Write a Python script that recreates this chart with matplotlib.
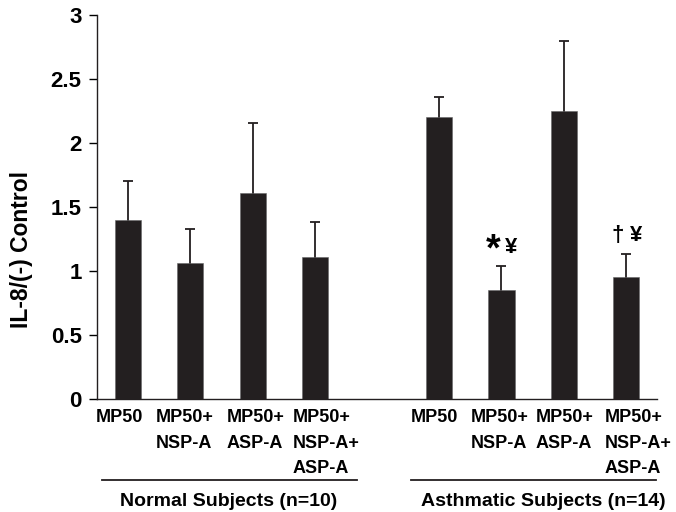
"""IL-8 response bar chart, normal vs asthmatic subjects."""

import matplotlib

matplotlib.use("Agg")

import matplotlib.pyplot as plt
import matplotlib.transforms as mtransforms

plt.rcParams["font.family"] = ["Liberation Sans", "DejaVu Sans"]
plt.rcParams["font.weight"] = "bold"

TREATMENTS = ["MP50", "MP50+\nNSP-A", "MP50+\nASP-A", "MP50+\nNSP-A+\nASP-A"]
NORMAL_MEAN = [1.40, 1.06, 1.61, 1.11]
NORMAL_ERR = [0.30, 0.27, 0.55, 0.27]
ASTHMA_MEAN = [2.20, 0.85, 2.25, 0.955]
ASTHMA_ERR = [0.16, 0.19, 0.55, 0.18]
GROUPS = ["Normal Subjects (n=10)", "Asthmatic Subjects (n=14)"]

BAR_COLOR = "#231f20"
# horizontal nudge (px) of each tick label, as in the original figure
LABEL_SHIFT = [-9, -6, 3, 11, -5, -2, 1, 12]


def main() -> None:
    fig = plt.figure(figsize=(6.76, 5.12), dpi=100)
    ax = fig.add_axes([0.1435, 0.2207, 0.8285, 0.75])

    normal_x = list(range(len(TREATMENTS)))
    asthma_x = [x + len(TREATMENTS) + 1 for x in normal_x]
    positions = normal_x + asthma_x
    means = NORMAL_MEAN + ASTHMA_MEAN
    errs = NORMAL_ERR + ASTHMA_ERR

    ax.bar(positions, means, width=0.42, color=BAR_COLOR, edgecolor="#666666",
           linewidth=0.4, zorder=2)
    # symmetric bars: the lower half hides behind the bar
    ax.errorbar(positions, means, yerr=errs, fmt="none", ecolor=BAR_COLOR,
                elinewidth=1.3, capsize=3.5, capthick=1.3, zorder=1)

    ax.set_xlim(-0.5, 8.5)
    ax.set_ylim(0, 3)
    ax.set_yticks([0, 0.5, 1, 1.5, 2, 2.5, 3])
    ax.set_yticklabels(["0", "0.5", "1", "1.5", "2", "2.5", "3"])
    ax.tick_params(axis="y", direction="out", length=6, width=1, labelsize=16, pad=5)
    ax.set_xticks(positions)
    ax.set_xticklabels(TREATMENTS * 2, fontsize=13, linespacing=1.68,
                       multialignment="left")
    ax.tick_params(axis="x", length=0, pad=7)
    for label, shift in zip(ax.get_xticklabels(), LABEL_SHIFT):
        offset = mtransforms.ScaledTranslation(shift / 100, 0, fig.dpi_scale_trans)
        label.set_transform(label.get_transform() + offset)
    for spine in ("top", "right"):
        ax.spines[spine].set_visible(False)
    for spine in ("left", "bottom"):
        ax.spines[spine].set_linewidth(1.0)
        ax.spines[spine].set_color(BAR_COLOR)

    fig.text(22 / 676, 1 - 250 / 512, "IL-8/(-) Control", rotation=90,
             ha="center", va="center", fontsize=16.5, fontweight="bold")

    # significance marks
    ax.text(5.86, 1.16, "*", ha="center", va="center", fontsize=27, fontweight="bold")
    ax.text(6.16, 1.18, "¥", ha="center", va="center", fontsize=16, fontweight="bold")
    ax.text(7.86, 1.28, "†", ha="center", va="center", fontsize=16, fontweight="bold")
    ax.text(8.16, 1.28, "¥", ha="center", va="center", fontsize=16, fontweight="bold")

    trans = mtransforms.blended_transform_factory(ax.transData, ax.transAxes)
    spans = [(-0.42, 3.68), (4.54, 8.48)]
    centers = [1.62, 6.67]
    for (x0, x1), cx, name in zip(spans, centers, GROUPS):
        ax.plot([x0, x1], [-0.211, -0.211], color=BAR_COLOR, linewidth=1.3,
                transform=trans, clip_on=False)
        ax.text(cx, -0.268, name, transform=trans, ha="center",
                va="center", fontsize=14, fontweight="bold")

    fig.savefig("out.png", dpi=100)
    plt.close(fig)


if __name__ == "__main__":
    main()
